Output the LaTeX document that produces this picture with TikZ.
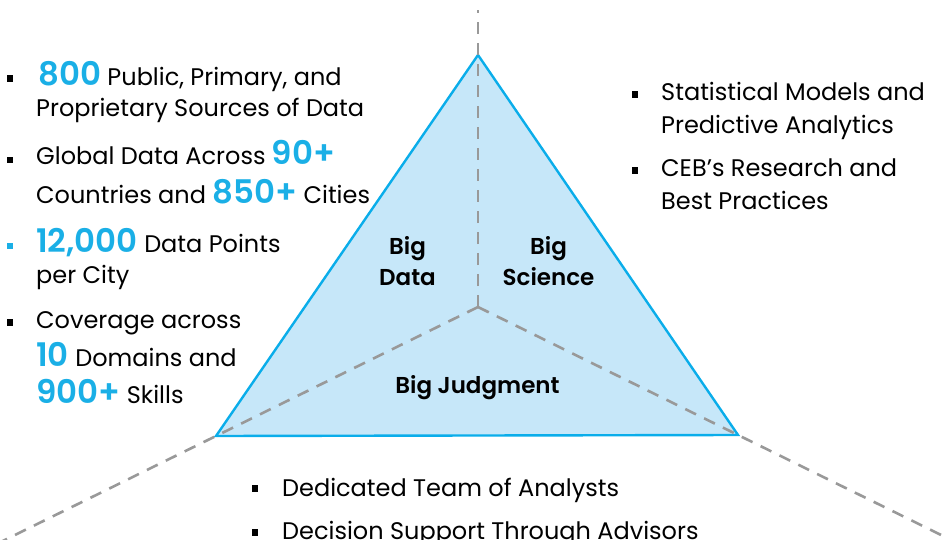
\documentclass[tikz,border=0pt]{standalone}
\usepackage{fontspec}
\setmainfont{Poppins}
\newfontfamily\semifont{Poppins}[UprightFont=* SemiBold]
\usetikzlibrary{calc}

\definecolor{numblue}{HTML}{1AAFE6}
\definecolor{edgeblue}{HTML}{0AADEA}
\definecolor{fillblue}{HTML}{C6E7F9}
\definecolor{dashgray}{HTML}{999999}
\newcommand\bignum[1]{{\color{numblue}\fontsize{32.5}{32.5}\selectfont\semifont #1}}

\begin{document}
\begin{tikzpicture}[x=1pt,y=-1pt,
  txt/.style={anchor=base west, inner sep=0pt, font=\fontsize{24}{24}\selectfont},
  lbl/.style={anchor=base, inner sep=0pt, font=\fontsize{23}{23}\selectfont\semifont},
  sq/.style={fill=black, minimum size=6.5pt, inner sep=0pt, draw=none},
  guide/.style={draw=dashgray, line width=2.6pt, dash pattern=on 12pt off 9pt},
  tri/.style={draw=edgeblue, fill=fillblue, line width=2.4pt, line join=miter}]

\clip (0,0) rectangle (942,540);

% triangle corners, centre and far ends of the guide lines
\coordinate (apex) at (478,55);
\coordinate (bl) at (216,436);
\coordinate (br) at (738,435);
\coordinate (ctr) at (478,307);
\coordinate (topend) at (478,10);
\coordinate (leftend) at ($(ctr)!1.9!(bl)$);
\coordinate (rightend) at ($(ctr)!1.9!(br)$);

% triangle
\path[tri] (apex) -- (br) -- (bl) -- cycle;

% dashed guides from the centre outwards
\draw[guide] (ctr) -- (topend);
\draw[guide] (ctr) -- (leftend);
\draw[guide] (ctr) -- (rightend);

% labels inside the triangle
\node[lbl] (bd1) at (407.5,254) {Big};
\node[lbl] (bd2) at (407.5,285.5) {Data};
\node[lbl] (bs1) at (548.5,254) {Big};
\node[lbl] (bs2) at (548.5,285.5) {Science};
\node[lbl] (bj) at (477.5,393) {Big Judgment};

% left list
\node[sq] (b1) at (10,78.3) {};
\node[txt] (t1a) at (38,86) {\bignum{800} Public, Primary, and};
\node[txt] (t1b) at (36,116.5) {Proprietary Sources of Data};

\node[sq] (b2) at (10,160) {};
\node[txt] (t2a) at (36,165) {Global Data Across \bignum{90+}};
\node[txt] (t2b) at (36,203.5) {Countries and \bignum{850+} Cities};

\node[sq, fill=numblue] (b3) at (10,246) {};
\node[txt] (t3a) at (36,252.3) {\bignum{12,000} Data Points};
\node[txt] (t3b) at (36,283.3) {per City};

\node[sq] (b4) at (10,322.5) {};
\node[txt] (t4a) at (36,328.3) {Coverage across};
\node[txt] (t4b) at (36,366.7) {\bignum{10} Domains and};
\node[txt] (t4c) at (36,403.3) {\bignum{900+} Skills};

% right list
\node[sq] (b5) at (635,94.7) {};
\node[txt] (t5a) at (661,101) {Statistical Models and};
\node[txt] (t5b) at (661,133.3) {Predictive Analytics};

\node[sq] (b6) at (635,170.3) {};
\node[txt] (t6a) at (661,176.7) {CEB’s Research and};
\node[txt] (t6b) at (661,209.3) {Best Practices};

% bottom list
\node[sq] (b7) at (255,488.5) {};
\node[txt] (t7) at (282,496) {Dedicated Team of Analysts};

\node[sq] (b8) at (255,532.3) {};
\node[txt] (t8) at (282,539.3) {Decision Support Through Advisors};
\end{tikzpicture}
\end{document}
